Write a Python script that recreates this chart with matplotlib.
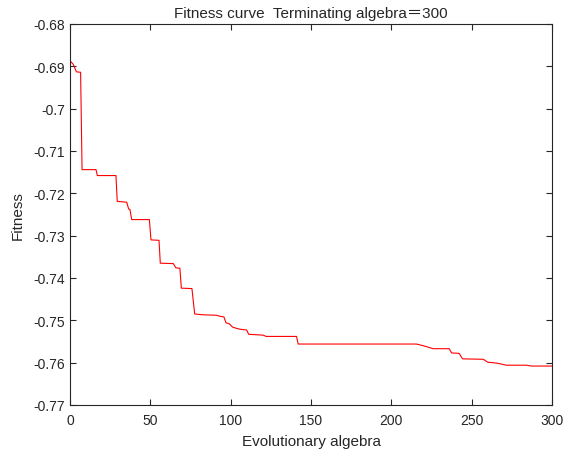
import matplotlib
matplotlib.use("Agg")
import matplotlib.pyplot as plt

# Generationen und Fitnesswerte
gen = [0, 2, 4, 6.6, 7.5, 16.2, 17, 28.6, 29.4, 35.3, 36.5, 37.3, 38.4, 49.4,
       50.4, 55.4, 56.2, 64.3, 65.9, 68.4, 69.3, 75.9, 77.6, 83, 91.3, 92.9,
       95.8, 97.1, 99.1, 101.2, 103.7, 105.8, 110, 111.2, 120.3, 122, 141, 142,
       215.7, 219.9, 226, 236, 237.5, 242.2, 244.3, 257.2, 260.1, 265.5, 271.7,
       284, 287.3, 300]
fitness = [-0.6887, -0.6895, -0.6913, -0.6914, -0.7144, -0.7144, -0.7158, -0.7158,
           -0.7219, -0.7221, -0.7237, -0.7238, -0.7262, -0.7262, -0.7310, -0.7311,
           -0.7365, -0.7366, -0.7376, -0.7377, -0.7424, -0.7425, -0.7485, -0.7487,
           -0.7488, -0.7490, -0.7492, -0.7506, -0.7508, -0.7516, -0.7519, -0.7521,
           -0.7523, -0.7533, -0.7535, -0.7538, -0.7538, -0.7556, -0.7556, -0.7560,
           -0.7567, -0.7567, -0.7577, -0.7578, -0.7591, -0.7592, -0.7599, -0.7601,
           -0.7606, -0.7606, -0.7608, -0.7608]

x_ticks = [0, 50, 100, 150, 200, 250, 300]
y_ticks = [-0.68, -0.69, -0.70, -0.71, -0.72, -0.73, -0.74, -0.75, -0.76, -0.77]
y_labels = ["-0.68", "-0.69", "-0.7", "-0.71", "-0.72", "-0.73", "-0.74", "-0.75", "-0.76", "-0.77"]

plt.rcParams["font.family"] = ["Liberation Sans", "Noto Sans CJK SC", "DejaVu Sans"]

fig = plt.figure(figsize=(5.66, 4.56), dpi=100)
ax = fig.add_axes([70/566, 50/456, 482/566, 381/456])

ax.plot(gen, fitness, color="red", linewidth=0.8)

ax.set_xlim(0, 300)
ax.set_ylim(-0.77, -0.68)
ax.set_xticks(x_ticks)
ax.set_yticks(y_ticks)
ax.set_yticklabels(y_labels)
ax.tick_params(direction="in", top=True, right=True, labelsize=10, length=4, color="#262626",
               labelcolor="#262626")
ax.tick_params(axis="x", pad=6)
for s in ax.spines.values():
    s.set_linewidth(0.8)
    s.set_color("#262626")

ax.set_xlabel("Evolutionary algebra", fontsize=11, color="#262626", labelpad=5)
ax.set_ylabel("Fitness", fontsize=11, color="#262626", labelpad=6)
ax.set_title("Fitness curve  Terminating algebra＝300", fontsize=11, color="#262626", pad=5)

fig.savefig("out.png", dpi=100)
